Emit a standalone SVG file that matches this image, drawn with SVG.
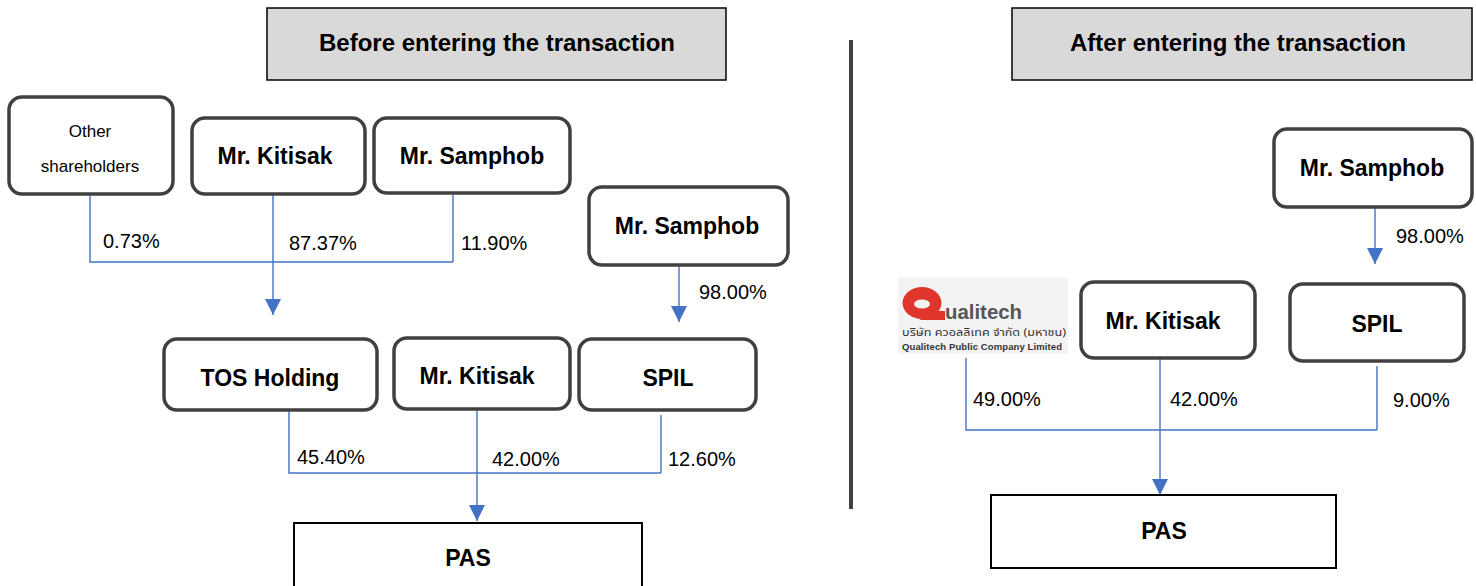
<svg xmlns="http://www.w3.org/2000/svg" width="1476" height="586" viewBox="0 0 1476 586">
<style>
  text { font-family: "Liberation Sans", Arial, sans-serif; fill: #000; }
  .hdr { fill: #d9d9d9; stroke: #000; stroke-width: 1.5; }
  .node { fill: #fff; stroke: #404040; stroke-width: 3.5; }
  .pas { fill: #fff; stroke: #000; stroke-width: 2; }
  .b { font-weight: bold; font-size: 23px; text-anchor: middle; }
  .t { font-weight: bold; font-size: 24px; text-anchor: middle; }
  .pct { font-size: 20px; }
  .conn { fill: none; stroke: #4472c4; stroke-width: 1.4; }
</style>
<defs>
  <marker id="arr" markerUnits="userSpaceOnUse" viewBox="0 0 16 16" refX="16" refY="8" markerWidth="16" markerHeight="16" orient="auto">
    <path d="M0,0 L16,8 L0,16 z" fill="#4472c4"/>
  </marker>
</defs>
<rect width="1476" height="586" fill="#fff"/>

<g id="divider"><line x1="851" y1="40" x2="851" y2="509" stroke="#404040" stroke-width="4"/></g>

<g id="hdr-before"><rect class="hdr" x="267" y="8" width="459" height="72"/><text class="t" x="497" y="51">Before entering the transaction</text></g>
<g id="hdr-after"><rect class="hdr" x="1012" y="8" width="460" height="72"/><text class="t" x="1238" y="51">After entering the transaction</text></g>

<g id="connectors">
  <path class="conn" d="M90 195 V262 H453 M453 195 V262"/>
  <path class="conn" d="M273 195 V315" marker-end="url(#arr)"/>
  <path class="conn" d="M679 265 V322" marker-end="url(#arr)"/>
  <path class="conn" d="M289 405 V473 H661 M661 415 V473"/>
  <path class="conn" d="M477 409 V521" marker-end="url(#arr)"/>
  <path class="conn" d="M1375 207 V264" marker-end="url(#arr)"/>
  <path class="conn" d="M966 358 V430 H1377 M1377 366 V430"/>
  <path class="conn" d="M1160 358 V495" marker-end="url(#arr)"/>
</g>

<g id="labels">
  <text class="pct" x="103" y="248">0.73%</text>
  <text class="pct" x="289" y="250">87.37%</text>
  <text class="pct" x="461" y="250">11.90%</text>
  <text class="pct" x="699" y="299">98.00%</text>
  <text class="pct" x="297" y="464">45.40%</text>
  <text class="pct" x="492" y="466">42.00%</text>
  <text class="pct" x="668" y="466">12.60%</text>
  <text class="pct" x="1396" y="243">98.00%</text>
  <text class="pct" x="973" y="406">49.00%</text>
  <text class="pct" x="1170" y="406">42.00%</text>
  <text class="pct" x="1393" y="407">9.00%</text>
</g>

<g id="n-other"><rect class="node" x="9" y="97" width="164" height="97" rx="13"/>
  <text x="90" y="137" font-size="17" text-anchor="middle">Other</text>
  <text x="90" y="172" font-size="17" text-anchor="middle">shareholders</text></g>
<g id="n-kitisak1"><rect class="node" x="192" y="118" width="173" height="76" rx="13"/><text class="b" x="275" y="164">Mr. Kitisak</text></g>
<g id="n-samphob1"><rect class="node" x="374" y="118" width="196" height="75" rx="13"/><text class="b" x="472" y="164">Mr. Samphob</text></g>
<g id="n-samphob2"><rect class="node" x="589" y="187" width="199" height="78" rx="13"/><text class="b" x="687" y="234">Mr. Samphob</text></g>
<g id="n-tos"><rect class="node" x="164" y="339" width="213" height="71" rx="13"/><text class="b" x="270" y="386">TOS Holding</text></g>
<g id="n-kitisak2"><rect class="node" x="394" y="338" width="176" height="71" rx="13"/><text class="b" x="477" y="384">Mr. Kitisak</text></g>
<g id="n-spil1"><rect class="node" x="579" y="339" width="177" height="71" rx="13"/><text class="b" x="668" y="386">SPIL</text></g>
<g id="n-pas1"><rect class="pas" x="294" y="523" width="348" height="80"/><text class="b" x="468" y="566">PAS</text></g>

<g id="n-samphob3"><rect class="node" x="1274" y="129" width="198" height="78" rx="13"/><text class="b" x="1372" y="176">Mr. Samphob</text></g>
<g id="n-qualitech">
  <rect x="898" y="277" width="170" height="77" fill="#f3f3f3"/>
  <ellipse cx="922" cy="303" rx="19.5" ry="16" fill="#e0352b"/>
  <polygon points="926,311 945,311 945,320 920,320" fill="#e0352b"/>
  <ellipse cx="922" cy="304" rx="8" ry="4.5" fill="#f3f3f3"/>
  <text x="945" y="319" font-size="21" font-weight="bold" style="fill:#555" textLength="77" lengthAdjust="spacingAndGlyphs">ualitech</text>
  <text x="902" y="336" font-size="10.5" style="fill:#333;font-family:'Noto Sans Thai','Noto Sans','DejaVu Sans',sans-serif" textLength="164" lengthAdjust="spacingAndGlyphs">บริษัท ควอลลิเทค จำกัด (มหาชน)</text>
  <text x="902" y="349.5" font-size="9.5" font-weight="bold" style="fill:#333" textLength="160">Qualitech Public Company Limited</text>
</g>
<g id="n-kitisak3"><rect class="node" x="1081" y="282" width="174" height="76" rx="13"/><text class="b" x="1163" y="329">Mr. Kitisak</text></g>
<g id="n-spil2"><rect class="node" x="1290" y="284" width="174" height="77" rx="13"/><text class="b" x="1377" y="332">SPIL</text></g>
<g id="n-pas2"><rect class="pas" x="991" y="495" width="345" height="73"/><text class="b" x="1164" y="539">PAS</text></g>
</svg>
